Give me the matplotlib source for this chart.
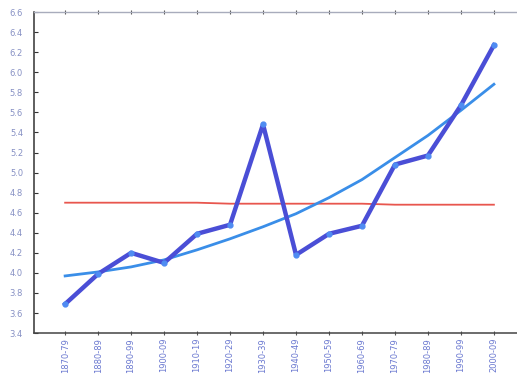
#!/usr/bin/env python3

import numpy as np
import matplotlib.pyplot as plt

periods = ["1870-79", "1880-89", "1890-99", "1900-09", "1910-19", "1920-29", "1930-39",
           "1940-49", "1950-59", "1960-69", "1970-79", "1980-89", "1990-99", "2000-09"]
values = [3.69, 3.99, 4.20, 4.10, 4.39, 4.48, 5.48, 4.18, 4.39, 4.47, 5.08, 5.17, 5.67, 6.27]
trend = [3.97, 4.01, 4.06, 4.13, 4.23, 4.34, 4.46, 4.59, 4.75, 4.93, 5.15, 5.37, 5.62, 5.88]
average = [4.70, 4.70, 4.70, 4.70, 4.70, 4.69, 4.69, 4.69, 4.69, 4.69, 4.68, 4.68, 4.68, 4.68]
yticks = [3.4, 3.6, 3.8, 4.0, 4.2, 4.4, 4.6, 4.8, 5.0, 5.2, 5.4, 5.6, 5.8, 6.0, 6.2, 6.4, 6.6]


def main():
    x = np.arange(len(periods))
    fig = plt.figure(figsize=(5.17, 3.76), dpi=100)
    ax = fig.add_axes([0.066, 0.114, 0.934, 0.854])

    ax.plot(x, average, color="#e8564e", lw=1.3)
    ax.plot(x, trend, color="#3a8ee8", lw=2.0)
    ax.plot(x, values, color="#4a4ed6", lw=3.2, marker="o", ms=3.5,
            mfc="#4f8cf2", mec="#4f8cf2", zorder=3)

    ax.set_xlim(-0.94, 13.7)
    ax.set_ylim(3.4, 6.6)
    ax.set_yticks(yticks)
    ax.set_yticklabels(["%.1f" % v for v in yticks])
    ax.set_xticks(x)
    ax.set_xticklabels(periods, rotation=90, va="top")

    ax.tick_params(axis="y", direction="in", length=3, width=0.8, labelsize=6,
                   labelcolor="#8690c4", pad=8, color="#333333")
    ax.tick_params(axis="x", direction="inout", length=3, width=0.8, labelsize=6,
                   labelcolor="#6a78d0", pad=2, color="#555555", top=True)

    ax.spines["right"].set_visible(False)
    ax.spines["left"].set_color("#333333")
    ax.spines["bottom"].set_color("#444444")
    ax.spines["top"].set_color("#a8acbc")
    ax.spines["top"].set_linewidth(1.0)
    for s in ["left", "bottom"]:
        ax.spines[s].set_linewidth(1.1)

    fig.savefig("out.png", dpi=100)


if __name__ == "__main__":
    main()
